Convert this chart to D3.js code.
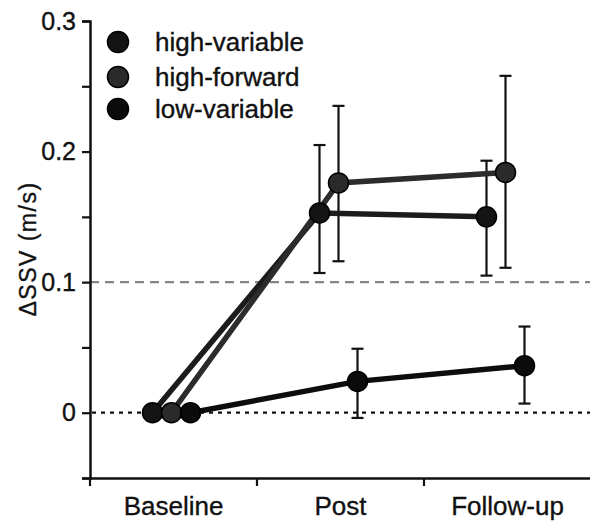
<!DOCTYPE html>
<html>
<head>
<meta charset="utf-8">
<script src="https://cdn.jsdelivr.net/npm/d3@7"></script>
<style>
  html, body { margin: 0; padding: 0; background: #fff; }
  svg { display: block; }
  text { font-family: "Liberation Sans", Arial, sans-serif; fill: #111; stroke: #111; stroke-width: 0.35px; }
</style>
</head>
<body>
<svg id="chart" width="590" height="525"></svg>
<script>
// ---- data ----
const categories = ["Baseline", "Post", "Follow-up"];
const seriesNames = ["high-variable", "high-forward", "low-variable"];
const highVariableMean = [0, 0.153, 0.150];
const highVariableLow  = [0, 0.107, 0.105];
const highVariableHigh = [0, 0.205, 0.193];
const highForwardMean  = [0, 0.176, 0.184];
const highForwardLow   = [0, 0.116, 0.111];
const highForwardHigh  = [0, 0.235, 0.258];
const lowVariableMean  = [0, 0.024, 0.036];
const lowVariableLow   = [0, -0.004, 0.007];
const lowVariableHigh  = [0, 0.049, 0.066];
const yTickValues = [-0.05, 0, 0.05, 0.1, 0.15, 0.2, 0.25, 0.3];
const yTickLabels = {"0": "0", "0.1": "0.1", "0.2": "0.2", "0.3": "0.3"};
const yLabel = "ΔSSV (m/s)";

const series = [
  {name: seriesNames[0], mean: highVariableMean, lo: highVariableLow, hi: highVariableHigh, fill: "#141414", line: "#1c1c1c", offset: -21},
  {name: seriesNames[1], mean: highForwardMean, lo: highForwardLow, hi: highForwardHigh, fill: "#2a2a2a", line: "#2c2c2c", offset: -2},
  {name: seriesNames[2], mean: lowVariableMean, lo: lowVariableLow, hi: lowVariableHigh, fill: "#0b0b0b", line: "#0d0d0d", offset: 17}
];

const svg = d3.select("#chart");
const x = d3.scaleBand().domain(categories).range([90, 591]).padding(0);
const y = d3.scaleLinear().domain([-0.05, 0.3]).range([478, 21]);
const xc = (c, off) => x(c) + x.bandwidth() / 2 + off;

// reference lines
svg.append("line")
  .attr("x1", 90).attr("x2", 590).attr("y1", y(0.1)).attr("y2", y(0.1))
  .attr("stroke", "#858585").attr("stroke-width", 2.2).attr("stroke-dasharray", "9,6");
svg.append("line")
  .attr("x1", 92).attr("x2", 590).attr("y1", y(0)).attr("y2", y(0))
  .attr("stroke", "#111").attr("stroke-width", 2.2).attr("stroke-dasharray", "4,5");

// axes
const yAxis = d3.axisLeft(y).tickValues(yTickValues).tickSize(8).tickPadding(6)
  .tickFormat(d => { const k = String(+d.toFixed(2)); return yTickLabels[k] !== undefined ? yTickLabels[k] : ""; });
const gy = svg.append("g").attr("transform", "translate(90,0)").call(yAxis);
gy.select(".domain").attr("stroke", "#111").attr("stroke-width", 2.5);
gy.selectAll(".tick line").attr("stroke", "#111").attr("stroke-width", 2.2);
gy.selectAll(".tick text").style("font-size", "25px").attr("fill", "#111");

const xAxis = d3.axisBottom(x).tickSize(0).tickPadding(19);
const gx = svg.append("g").attr("transform", "translate(0,478)").call(xAxis);
gx.select(".domain").attr("stroke", "#111").attr("stroke-width", 2.5);
gx.selectAll(".tick text").style("font-size", "26px").attr("fill", "#111").attr("dy", "0.71em");
// boundary ticks between categories
const boundaries = categories.map(c => x(c));
gx.selectAll(".bnd").data(boundaries).enter().append("line")
  .attr("x1", d => d).attr("x2", d => d).attr("y1", 0).attr("y2", 8)
  .attr("stroke", "#111").attr("stroke-width", 2.2);

// y label
svg.append("text")
  .attr("transform", "translate(36,249) rotate(-90)")
  .attr("text-anchor", "middle")
  .style("font-size", "23px")
  .style("letter-spacing", "1.5px")
  .text(yLabel);

// error bars
series.forEach(s => {
  const g = svg.append("g");
  categories.forEach((c, i) => {
    if (s.hi[i] === s.lo[i]) return;
    const cx = xc(c, s.offset);
    g.append("line").attr("x1", cx).attr("x2", cx).attr("y1", y(s.lo[i])).attr("y2", y(s.hi[i]))
      .attr("stroke", "#111").attr("stroke-width", 2.2);
    [s.lo[i], s.hi[i]].forEach(v => {
      g.append("line").attr("x1", cx - 6).attr("x2", cx + 6).attr("y1", y(v)).attr("y2", y(v))
        .attr("stroke", "#111").attr("stroke-width", 2.2);
    });
  });
});

// lines
const lineGen = d3.line().x(d => d.x).y(d => d.y);
series.forEach(s => {
  const pts = categories.map((c, i) => ({x: xc(c, s.offset), y: y(s.mean[i])}));
  svg.append("path").attr("d", lineGen(pts)).attr("fill", "none")
    .attr("stroke", s.line).attr("stroke-width", 5.5);
});

// markers
series.forEach(s => {
  svg.append("g").selectAll("circle").data(categories).enter().append("circle")
    .attr("cx", (c) => xc(c, s.offset))
    .attr("cy", (c, i) => y(s.mean[i]))
    .attr("r", 10)
    .attr("fill", s.fill).attr("stroke", "#000").attr("stroke-width", 1.5);
});

// legend
const legend = svg.append("g");
const legendY = [42, 77, 109];
series.forEach((s, i) => {
  legend.append("circle").attr("cx", 118).attr("cy", legendY[i]).attr("r", 10.5)
    .attr("fill", s.fill).attr("stroke", "#000").attr("stroke-width", 1.5);
  legend.append("text").attr("x", 155).attr("y", legendY[i]).attr("dy", "0.35em")
    .style("font-size", "26px").text(s.name);
});
</script>
</body>
</html>
